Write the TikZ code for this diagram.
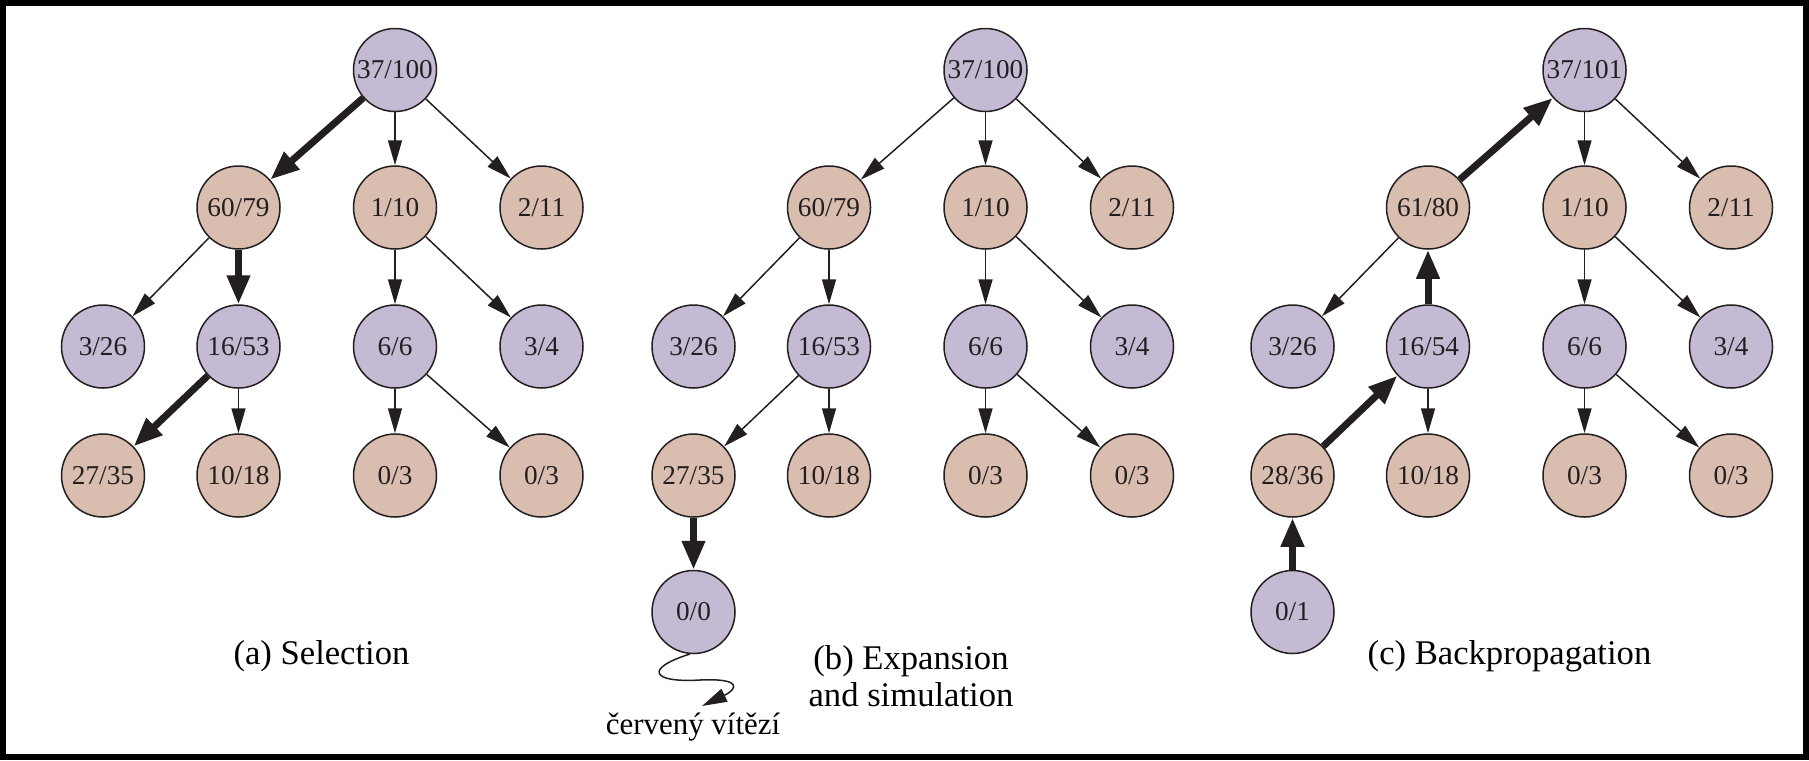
\documentclass[tikz,border=0pt]{standalone}
\usepackage{fontspec}
\setmainfont{Liberation Serif}
\usetikzlibrary{arrows.meta, positioning}

\definecolor{mctsPurple}{RGB}{196,186,212}
\definecolor{mctsSand}{RGB}{217,190,176}
\definecolor{mctsInk}{RGB}{35,31,32}

\begin{document}
\begin{tikzpicture}[
    on grid,
    state/.style={circle, draw=mctsInk, line width=0.03cm, minimum size=1.66cm,
                  inner sep=0pt, text=mctsInk, font=\fontsize{15.5}{18}\selectfont},
    lav/.style={state, fill=mctsPurple},
    sand/.style={state, fill=mctsSand},
    arrow/.style={-{Triangle[length=0.5cm, width=0.28cm]}, line width=0.03cm, draw=mctsInk},
    trail/.style={-{Triangle[length=0.58cm, width=0.44cm]}, line width=0.14cm, draw=mctsInk},
    caption/.style={font=\fontsize{19.7}{21}\selectfont, align=center}
]

% Ramecek
\useasboundingbox (0,0) rectangle (36.18,-15.2);
\draw[line width=0.12cm] (0.06,-0.06) rectangle (36.12,-15.14);

% (a) Selection
\node[lav] (ar) at (7.9,-1.4) {37/100};
\node[sand, below left=2.75cm and 3.13cm of ar] (al) {60/79};
\node[sand, below=2.75cm of ar] (am) {1/10};
\node[sand, below right=2.75cm and 2.93cm of ar] (as) {2/11};
\node[lav, below left=2.78cm and 2.71cm of al] (all) {3/26};
\node[lav, below=2.78cm of al] (alm) {16/53};
\node[lav, below=2.78cm of am] (amm) {6/6};
\node[lav, below right=2.78cm and 2.93cm of am] (amr) {3/4};
\node[sand, below left=2.58cm and 2.71cm of alm] (alml) {27/35};
\node[sand, below=2.58cm of alm] (almm) {10/18};
\node[sand, below=2.58cm of amm] (ammm) {0/3};
\node[sand, below right=2.58cm and 2.93cm of amm] (ammr) {0/3};

\draw[trail] (ar) -- (al);
\draw[arrow] (ar) -- (am);
\draw[arrow] (ar) -- (as);
\draw[arrow] (al) -- (all);
\draw[trail] (al) -- (alm);
\draw[arrow] (am) -- (amm);
\draw[arrow] (am) -- (amr);
\draw[trail] (alm) -- (alml);
\draw[arrow] (alm) -- (almm);
\draw[arrow] (amm) -- (ammm);
\draw[arrow] (amm) -- (ammr);

\node[caption] (acap) at (6.43,-13.13) {(a) Selection};

% (b) Expansion and simulation
\node[lav] (br) at (19.71,-1.4) {37/100};
\node[sand, below left=2.75cm and 3.13cm of br] (bl) {60/79};
\node[sand, below=2.75cm of br] (bm) {1/10};
\node[sand, below right=2.75cm and 2.93cm of br] (bs) {2/11};
\node[lav, below left=2.78cm and 2.71cm of bl] (bll) {3/26};
\node[lav, below=2.78cm of bl] (blm) {16/53};
\node[lav, below=2.78cm of bm] (bmm) {6/6};
\node[lav, below right=2.78cm and 2.93cm of bm] (bmr) {3/4};
\node[sand, below left=2.58cm and 2.71cm of blm] (bml) {27/35};
\node[sand, below=2.58cm of blm] (blmm) {10/18};
\node[sand, below=2.58cm of bmm] (bmmm) {0/3};
\node[sand, below right=2.58cm and 2.93cm of bmm] (bmmr) {0/3};
\node[lav, below=2.73cm of bml] (bnew) {0/0};

\draw[arrow] (br) -- (bl);
\draw[arrow] (br) -- (bm);
\draw[arrow] (br) -- (bs);
\draw[arrow] (bl) -- (bll);
\draw[arrow] (bl) -- (blm);
\draw[arrow] (bm) -- (bmm);
\draw[arrow] (bm) -- (bmr);
\draw[arrow] (blm) -- (bml);
\draw[arrow] (blm) -- (blmm);
\draw[arrow] (bmm) -- (bmmm);
\draw[arrow] (bmm) -- (bmmr);
\draw[trail] (bml) -- (bnew);

% simulace
\coordinate (bturn) at (14.0,-13.6);
\coordinate (bend) at (14.04,-14.12);
\draw[arrow] (bnew.265) .. controls (12.9,-13.36) and (13.0,-13.66) .. (bturn)
    .. controls (14.85,-13.56) and (14.75,-13.78) .. (bend);
\node[font=\fontsize{17.6}{20}\selectfont] (bwin) at (13.86,-14.54) {červený vítězí};

\node[caption] (bcap) at (18.22,-13.52) {(b) Expansion\\and simulation};

% (c) Backpropagation
\node[lav] (cr) at (31.69,-1.4) {37/101};
\node[sand, below left=2.75cm and 3.13cm of cr] (cl) {61/80};
\node[sand, below=2.75cm of cr] (cm) {1/10};
\node[sand, below right=2.75cm and 2.93cm of cr] (cs) {2/11};
\node[lav, below left=2.78cm and 2.71cm of cl] (cll) {3/26};
\node[lav, below=2.78cm of cl] (clm) {16/54};
\node[lav, below=2.78cm of cm] (cmm) {6/6};
\node[lav, below right=2.78cm and 2.93cm of cm] (cmr) {3/4};
\node[sand, below left=2.58cm and 2.71cm of clm] (cml) {28/36};
\node[sand, below=2.58cm of clm] (clmm) {10/18};
\node[sand, below=2.58cm of cmm] (cmmm) {0/3};
\node[sand, below right=2.58cm and 2.93cm of cmm] (cmmr) {0/3};
\node[lav, below=2.73cm of cml] (cnew) {0/1};

\draw[trail] (cl) -- (cr);
\draw[arrow] (cr) -- (cm);
\draw[arrow] (cr) -- (cs);
\draw[arrow] (cl) -- (cll);
\draw[trail] (clm) -- (cl);
\draw[arrow] (cm) -- (cmm);
\draw[arrow] (cm) -- (cmr);
\draw[trail] (cml) -- (clm);
\draw[arrow] (clm) -- (clmm);
\draw[arrow] (cmm) -- (cmmm);
\draw[arrow] (cmm) -- (cmmr);
\draw[trail] (cnew) -- (cml);

\node[caption] (ccap) at (30.19,-13.13) {(c) Backpropagation};

\end{tikzpicture}
\end{document}
